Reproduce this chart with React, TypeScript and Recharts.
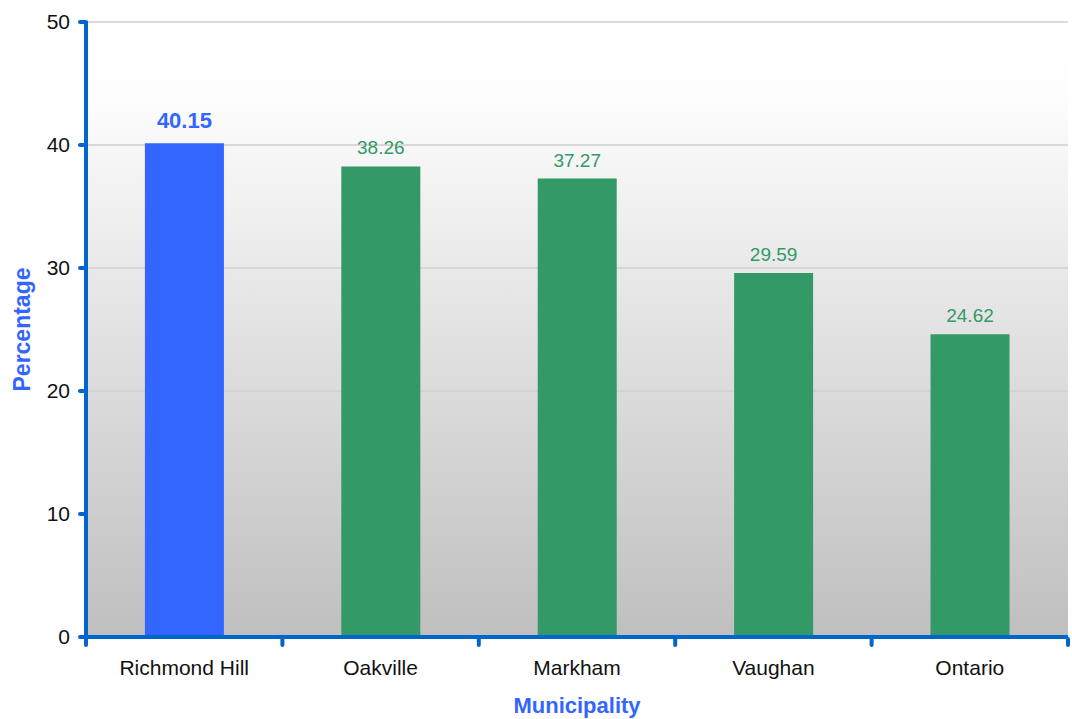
import { BarChart, Bar, XAxis, YAxis, CartesianGrid, Cell, LabelList } from 'recharts';

const municipalities = ['Richmond Hill', 'Oakville', 'Markham', 'Vaughan', 'Ontario'];
const percentages = [40.15, 38.26, 37.27, 29.59, 24.62];
const yTicks = [0, 10, 20, 30, 40, 50];

const data = municipalities.map((name, i) => ({ name, value: percentages[i] }));

const AXIS = '#0066cc';
const BLUE = '#3366ff';
const GREEN = '#339966';
const FONT = '"Liberation Sans", Arial, sans-serif';

// highlight the first municipality, the rest are green
const barColor = (i: number) => (i === 0 ? BLUE : GREEN);

function XTick(props: any) {
  const { x, y, payload, index } = props;
  const half = payload.offset ?? 0;
  const axisY = y - 6;
  return (
    <g>
      <line x1={x - half} x2={x - half} y1={axisY} y2={axisY + 6} stroke={AXIS} strokeWidth={4} strokeLinecap="round" />
      {index === municipalities.length - 1 && (
        <line x1={x + half} x2={x + half} y1={axisY} y2={axisY + 6} stroke={AXIS} strokeWidth={4} strokeLinecap="round" />
      )}
      <text x={x} y={axisY + 36} textAnchor="middle" fill="#111" fontSize={21} fontFamily={FONT}>
        {payload.value}
      </text>
    </g>
  );
}

function ValueLabel(props: any) {
  const { x, y, width, value, index } = props;
  const first = index === 0;
  return (
    <text
      x={x + width / 2}
      y={y - (first ? 15 : 12)}
      textAnchor="middle"
      fill={barColor(index)}
      fontSize={first ? 22 : 19}
      fontWeight={first ? 'bold' : 'normal'}
      fontFamily={FONT}
    >
      {value.toFixed(2)}
    </text>
  );
}

export default function App() {
  return (
    <div style={{ position: 'absolute', left: 0, top: 0, fontFamily: FONT }}>
      <BarChart width={1072} height={719} data={data} margin={{ top: 22, right: 4, bottom: 0, left: 0 }} barCategoryGap="30%">
        <defs>
          <linearGradient id="plotBg" x1="0" y1="0" x2="0" y2="1">
            <stop offset="0%" stopColor="#ffffff" />
            <stop offset="12%" stopColor="#fdfdfd" />
            <stop offset="100%" stopColor="#bfbfbf" />
          </linearGradient>
        </defs>
        <CartesianGrid vertical={false} stroke="#cfcfcf" strokeWidth={1.5} fill="url(#plotBg)" />
        <XAxis
          dataKey="name"
          height={82}
          axisLine={{ stroke: AXIS, strokeWidth: 4 }}
          tickLine={false}
          tickSize={6}
          tick={<XTick />}
          interval={0}
          label={{
            value: 'Municipality',
            position: 'insideBottom',
            offset: 6,
            fill: BLUE,
            fontSize: 22,
            fontWeight: 'bold',
            fontFamily: FONT,
          }}
        />
        <YAxis
          domain={[0, 50]}
          ticks={yTicks}
          width={86}
          axisLine={{ stroke: AXIS, strokeWidth: 4 }}
          tickLine={{ stroke: AXIS, strokeWidth: 4, strokeLinecap: 'round' }}
          tickSize={6}
          tickMargin={10}
          tick={{ fill: '#111', fontSize: 21, fontFamily: FONT }}
          label={{
            value: 'Percentage',
            angle: -90,
            position: 'insideLeft',
            offset: 22,
            fill: BLUE,
            fontSize: 23,
            fontWeight: 'bold',
            fontFamily: FONT,
            style: { textAnchor: 'middle' },
          }}
        />
        <Bar dataKey="value" isAnimationActive={false}>
          {data.map((_, i) => (
            <Cell key={i} fill={barColor(i)} />
          ))}
          <LabelList dataKey="value" content={<ValueLabel />} />
        </Bar>
      </BarChart>
    </div>
  );
}
